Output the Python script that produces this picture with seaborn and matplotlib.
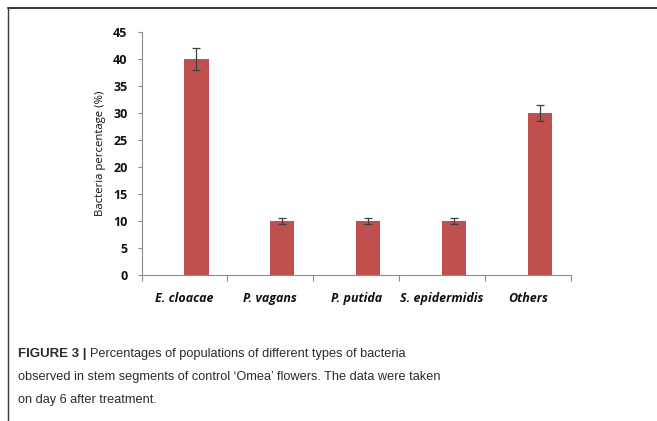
import matplotlib
matplotlib.use("Agg")
import matplotlib.pyplot as plt
from matplotlib.lines import Line2D
import seaborn as sns
import pandas as pd

# Bacterial populations found in stem segments (day 6)
categories = ["E. cloacae", "P. vagans", "P. putida", "S. epidermidis", "Others"]
percentages = [40, 10, 10, 10, 30]
errors = [2.0, 0.5, 0.5, 0.5, 1.5]
y_ticks = [0, 5, 10, 15, 20, 25, 30, 35, 40, 45]

caption_head = "FIGURE 3 |"
caption_lines = [
    "Percentages of populations of different types of bacteria",
    "observed in stem segments of control \u2018Omea\u2019 flowers. The data were taken",
    "on day 6 after treatment.",
]

BAR_COLOR = "#C0504D"
AXIS_GRAY = "#8C8C8C"
TEXT_DARK = "#111111"

sns.set_theme(style="white")
plt.rcParams["font.family"] = ["Open Sans", "DejaVu Sans"]

df = pd.DataFrame({"category": categories, "pct": percentages})

fig = plt.figure(figsize=(6.57, 4.21), dpi=100)
ax = fig.add_axes([141.5 / 657, 1 - 275 / 421, (571 - 141.5) / 657, (275 - 31.7) / 421])

bar_w = 0.28
sns.barplot(data=df, x="category", y="pct", order=categories, color=BAR_COLOR,
            saturation=1, width=bar_w, errorbar=None, ax=ax)

# bars sit just right of each category centre
centers = []
for p in ax.patches:
    p.set_x(p.get_x() + bar_w / 2)
    p.set_edgecolor("none")
    centers.append(p.get_x() + p.get_width() / 2)

ax.errorbar(centers, percentages, yerr=errors, fmt="none", ecolor="#404040",
            elinewidth=0.9, capsize=3, capthick=0.9)

ax.set_ylim(0, 45)
ax.set_xlim(-0.5, len(categories) - 0.5)
ax.set_yticks(y_ticks)
ax.set_yticklabels([str(v) for v in y_ticks], fontsize=9, fontweight="bold", color=TEXT_DARK)
ax.set_xticks(range(len(categories)))
ax.set_xticklabels(categories, fontsize=9, fontweight="bold", style="italic", color=TEXT_DARK)
ax.set_xticks([i - 0.5 for i in range(len(categories) + 1)], minor=True)
ax.tick_params(axis="x", which="major", bottom=True, length=0, pad=12)
ax.tick_params(axis="x", which="minor", bottom=True, length=4, width=0.8, color=AXIS_GRAY,
               direction="out")
ax.tick_params(axis="y", which="major", left=True, length=3, width=0.8, color=AXIS_GRAY,
               direction="out", pad=7)
ax.set_xlabel("")
ax.set_ylabel("Bacteria percentage (%)", fontsize=8.2, color=TEXT_DARK, labelpad=5)

for side in ["top", "right"]:
    ax.spines[side].set_visible(False)
for side in ["left", "bottom"]:
    ax.spines[side].set_color(AXIS_GRAY)
    ax.spines[side].set_linewidth(0.8)

# frame lines along the top and left edge
fig.add_artist(Line2D([8 / 657, 1], [1 - 8 / 421] * 2, color="#3a3a3a", lw=1.5))
fig.add_artist(Line2D([8 / 657] * 2, [0, 1 - 8 / 421], color="#3a3a3a", lw=1.0))

# caption
cap_font = ["Liberation Sans", "DejaVu Sans"]
cap_size = 9.2
cap_color = "#2b2b2b"
x0 = 18 / 657
baselines = [356.5, 380, 403]
head = fig.text(x0, 1 - baselines[0] / 421, caption_head, fontsize=cap_size + 0.3,
                fontweight="bold", family=cap_font, color=cap_color, va="baseline", ha="left")
fig.canvas.draw()
bb = head.get_window_extent()
x_after = (bb.x1 + 4) / fig.bbox.width
fig.text(x_after, 1 - baselines[0] / 421, caption_lines[0], fontsize=cap_size,
         family=cap_font, color=cap_color, va="baseline", ha="left")
for line, b in zip(caption_lines[1:], baselines[1:]):
    fig.text(x0, 1 - b / 421, line, fontsize=cap_size, family=cap_font, color=cap_color,
             va="baseline", ha="left")

fig.savefig("out.png", dpi=100, facecolor="white")
